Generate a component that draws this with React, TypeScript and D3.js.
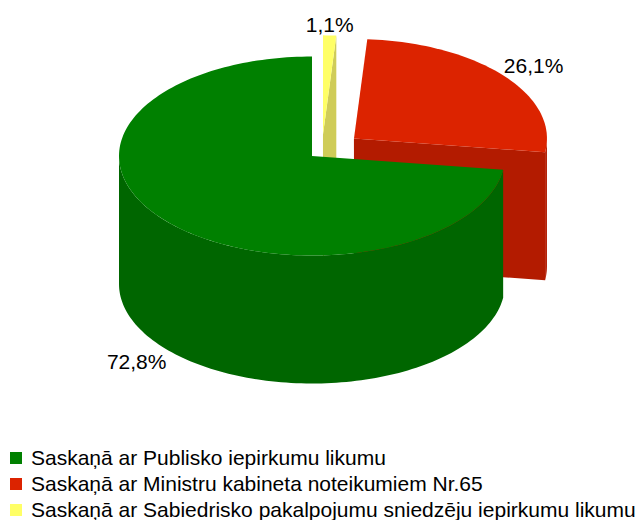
import React from "react";
import * as d3 from "d3";

// ---- data ----
const CATEGORIES = [
  "Saskaņā ar Publisko iepirkumu likumu",
  "Saskaņā ar Ministru kabineta noteikumiem Nr.65",
  "Saskaņā ar Sabiedrisko pakalpojumu sniedzēju iepirkumu likumu",
];
const VALUES = [72.8, 26.1, 1.1];
const LABELS = ["72,8%", "26,1%", "1,1%"];

// ---- style ----
const TOP_COLORS = ["#008000", "#dc2300", "#ffff66"];
const SIDE_COLORS = ["#006600", "#b31b00", "#cfcc58"];
const EXPLODE = [0, 0.28, 0.22];
const EXPLODE_DIR_OFFSET = [0, 0, 13];

const W = 642;
const H = 520;
const CX = 312;
const CY = 156;
const RX = 193;
const RY = 99.5;
const DEPTH = 128;
const FONT = "'Liberation Sans', Arial, Helvetica, sans-serif";
const FS = 21;

const rad = (d: number) => (d * Math.PI) / 180;

type Pt = [number, number];

export default function App() {
  const pie = d3
    .pie<number>()
    .sort(null)
    .startAngle(2 * Math.PI)
    .endAngle(0);
  const arcs = pie(VALUES);

  const slices = arcs.map((a, i) => {
    const a0 = (Math.min(a.startAngle, a.endAngle) * 180) / Math.PI;
    const a1 = (Math.max(a.startAngle, a.endAngle) * 180) / Math.PI;
    const mid = (a0 + a1) / 2;
    const dir = rad(mid + EXPLODE_DIR_OFFSET[i]);
    const ox = CX + RX * EXPLODE[i] * Math.sin(dir);
    const oy = CY - RY * EXPLODE[i] * Math.cos(dir);
    const proj = (r: number, deg: number, h: number): Pt => [
      ox + RX * r * Math.sin(rad(deg)),
      oy - RY * r * Math.cos(rad(deg)) + h,
    ];
    return { i, a0, a1, mid, ox, oy, proj };
  });

  const line = d3.line<Pt>().x((d) => d[0]).y((d) => d[1]);
  const arcPts = (proj: any, from: number, to: number, h: number): Pt[] => {
    const n = Math.max(2, Math.ceil(Math.abs(to - from) / 1.5));
    return d3.range(n + 1).map((k) => proj(1, from + ((to - from) * k) / n, h));
  };

  // back-to-front
  const order = [...slices].sort(
    (p, q) => Math.cos(rad(q.mid)) - Math.cos(rad(p.mid))
  );

  const shapes: React.ReactNode[] = [];
  order.forEach((s) => {
    const { i, a0, a1, proj, ox, oy } = s;
    const side = SIDE_COLORS[i];
    const ctop: Pt = [ox, oy];
    const cbot: Pt = [ox, oy + DEPTH];
    // radial faces
    const faces: number[] = [];
    if (Math.sin(rad(a0)) < -1e-6) faces.push(a0);
    if (Math.sin(rad(a1)) > 1e-6) faces.push(a1);
    faces.forEach((f, k) => {
      const pts: Pt[] = [ctop, proj(1, f, 0), proj(1, f, DEPTH), cbot];
      shapes.push(
        <path key={`f${i}-${k}`} d={line(pts) + "Z"} fill={side} />
      );
    });
    // outer wall (front-facing part)
    const w0 = Math.max(a0, 90);
    const w1 = Math.min(a1, 270);
    if (w1 > w0) {
      const pts = [
        ...arcPts(proj, w0, w1, 0),
        ...arcPts(proj, w1, w0, DEPTH),
      ];
      shapes.push(<path key={`w${i}`} d={line(pts) + "Z"} fill={side} />);
    }
    // top face
    const topPts: Pt[] = [ctop, ...arcPts(proj, a0, a1, 0)];
    shapes.push(
      <path key={`t${i}`} d={line(topPts) + "Z"} fill={TOP_COLORS[i]} />
    );
  });

  // labels
  const labels = slices.map((s) => {
    const c = Math.cos(rad(s.mid));
    const sn = Math.sin(rad(s.mid));
    const front = c < 0;
    const p = s.proj(1, s.mid, front ? DEPTH : 0);
    const anchor = sn > 0.3 ? "start" : sn < -0.3 ? "end" : "middle";
    const y = front ? p[1] + 20 : p[1] - 3;
    return (
      <text
        key={`l${s.i}`}
        x={p[0]}
        y={y}
        textAnchor={anchor}
        fontFamily={FONT}
        fontSize={FS}
        fill="#000"
      >
        {LABELS[s.i]}
      </text>
    );
  });

  const LEG_X = 10;
  const LEG_Y0 = 452;
  const LEG_STEP = 26;

  return (
    <svg
      width={W}
      height={H}
      style={{ position: "absolute", left: 0, top: 0, display: "block" }}
    >
      <rect x={0} y={0} width={W} height={H} fill="#fff" />
      {shapes}
      {labels}
      {CATEGORIES.map((c, i) => (
        <g key={`lg${i}`}>
          <rect
            x={LEG_X}
            y={LEG_Y0 + i * LEG_STEP}
            width={12}
            height={12}
            fill={TOP_COLORS[i]}
          />
          <text
            x={31}
            y={LEG_Y0 + i * LEG_STEP + 13}
            fontFamily={FONT}
            fontSize={FS}
            fill="#000"
          >
            {c}
          </text>
        </g>
      ))}
    </svg>
  );
}
